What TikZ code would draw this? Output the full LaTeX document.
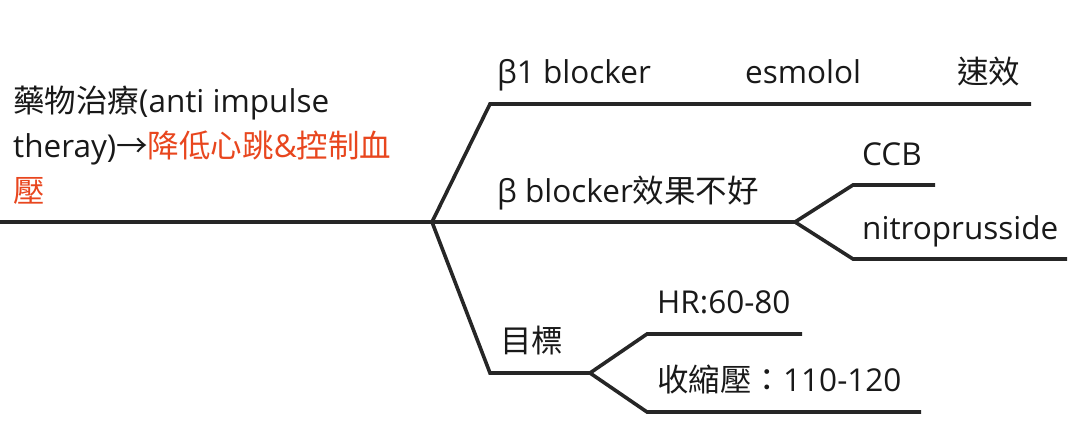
\documentclass[tikz,border=0pt]{standalone}
\usepackage{fontspec}
\setmainfont{Open Sans}
\newfontfamily\cjk{Noto Sans CJK TC}
\usetikzlibrary{positioning}
\definecolor{linegray}{HTML}{262626}
\definecolor{accent}{HTML}{E8461E}

\begin{document}
\begin{tikzpicture}[
    x=1pt, y=-1pt,
    branch/.style={draw=linegray, line width=3.6pt, line join=miter},
    leaf/.style={anchor=base west, inner sep=0pt, text=black!90, font=\fontsize{31.5}{45}\selectfont},
    emph/.style={text=accent},
]
\useasboundingbox (0,0) rectangle (1090,431);

% trunk
\coordinate (start) at (0,222);
\coordinate (hub) at (432,222);
\node[leaf, align=left] (therapy) at (13,202)
    {{\cjk 藥物治療}(anti impulse\\theray){\cjk →}{\cjk\color{accent}降低心跳}{\color{accent}\&}{\cjk\color{accent}控制血}\\{\cjk\color{accent}壓}};
\draw[branch] (start) -- (hub);

% beta1 blocker
\coordinate (b1corner) at (490,104);
\coordinate (b1end) at (1031,104);
\node[leaf] (beta1) at (497,83) {β1 blocker};
\node[leaf] (esmolol) at (745,83) {esmolol};
\node[leaf] (fast) at (957,83) {\cjk 速效};
\draw[branch] (hub) -- (b1corner) -- (b1end);

% beta blocker poor effect
\coordinate (fork2) at (795,222);
\coordinate (ccbcorner) at (853,185);
\coordinate (ccbend) at (935,185);
\coordinate (nitrocorner) at (853,259);
\coordinate (nitroend) at (1067,259);
\node[leaf] (betapoor) at (497,202) {β blocker{\cjk 效果不好}};
\node[leaf] (ccb) at (862,165) {CCB};
\node[leaf] (nitro) at (862,239) {nitroprusside};
\draw[branch] (hub) -- (fork2);
\draw[branch] (fork2) -- (ccbcorner) -- (ccbend);
\draw[branch] (fork2) -- (nitrocorner) -- (nitroend);

% goal
\coordinate (b3corner) at (490,373);
\coordinate (fork3) at (590,373);
\coordinate (hrcorner) at (647,334);
\coordinate (hrend) at (802,334);
\coordinate (sbpcorner) at (647,412);
\coordinate (sbpend) at (921,412);
\node[leaf] (goal) at (500,352) {\cjk 目標};
\node[leaf] (hr) at (657,313) {HR:60-80};
\node[leaf] (sbp) at (657,391) {{\cjk 收縮壓：}110-120};
\draw[branch] (hub) -- (b3corner) -- (fork3);
\draw[branch] (fork3) -- (hrcorner) -- (hrend);
\draw[branch] (fork3) -- (sbpcorner) -- (sbpend);
\end{tikzpicture}
\end{document}
